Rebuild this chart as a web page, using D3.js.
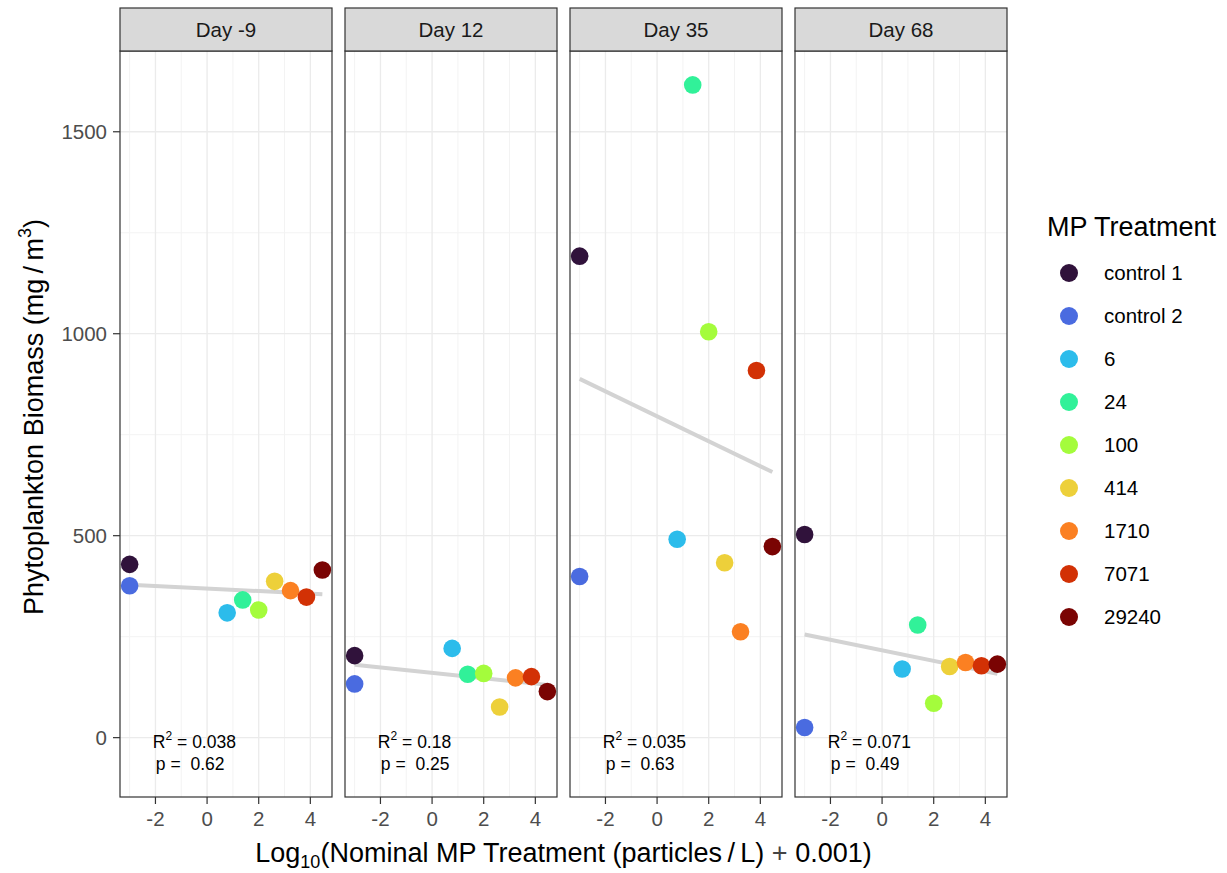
<!DOCTYPE html>
<html>
<head>
<meta charset="utf-8">
<script src="https://cdn.jsdelivr.net/npm/d3@7"></script>
<style>
  body { margin: 0; background: #fff; }
  text { font-family: "Liberation Sans", Arial, sans-serif; }
</style>
</head>
<body>
<div id="chart"></div>
<script>
var days = ["Day -9", "Day 12", "Day 35", "Day 68"];
var treatments = ["control 1", "control 2", "6", "24", "100", "414", "1710", "7071", "29240"];
var nominal = [0, 0, 6, 24, 100, 414, 1710, 7071, 29240];
var colors = ["#30123B", "#4A6BE0", "#2CBCEB", "#31F199", "#A4FC3C", "#EDD03A", "#FB8022", "#D23105", "#7A0403"];

// biomass per treatment (mg/m3), same order as treatments
var dayM9 = [429, 376, 309, 341, 316, 387, 364, 348, 415];
var day12 = [203, 133, 221, 157, 159, 76, 148, 151, 114];
var day35 = [1192, 399, 491, 1616, 1005, 433, 262, 909, 473];
var day68 = [503, 25, 170, 279, 85, 176, 186, 178, 182];
var biomass = [dayM9, day12, day35, day68];

var r2Labels = ["0.038", "0.18", "0.035", "0.071"];
var pLabels = ["0.62", "0.25", "0.63", "0.49"];
var labelX = -2.1, labelY = -63;

var xTicks = [-2, 0, 2, 4], xMinor = [-3, -1, 1, 3];
var yTicks = [0, 500, 1000, 1500], yMinor = [250, 750, 1250];

////////////////////////////////////////////////////////////
//////////////////////// Layout ////////////////////////////
////////////////////////////////////////////////////////////

var W = 1227, H = 873,
    panelTop = 51, panelBottom = 797, stripTop = 8,
    panelW = 212, panelGap = 13, firstLeft = 120;

var logX = nominal.map(function(n) { return Math.log10(n + 0.001); });

function expand(lo, hi) {
  var pad = (hi - lo) * 0.05;
  return [lo - pad, hi + pad];
}

var x = d3.scaleLinear()
  .domain(expand(d3.min(logX), d3.max(logX)))
  .range([0, panelW]);

var y = d3.scaleLinear()
  .domain(expand(labelY, d3.max(biomass, function(b) { return d3.max(b); })))
  .range([panelBottom, panelTop]);

function fit(xs, ys) {
  var mx = d3.mean(xs), my = d3.mean(ys), sxy = 0, sxx = 0;
  xs.forEach(function(v, i) { sxy += (v - mx) * (ys[i] - my); sxx += (v - mx) * (v - mx); });
  var b = sxy / sxx;
  return function(v) { return my + b * (v - mx); };
}

var svg = d3.select("#chart").append("svg")
  .attr("width", W)
  .attr("height", H);

////////////////////////////////////////////////////////////
//////////////////////// Panels ////////////////////////////
////////////////////////////////////////////////////////////

days.forEach(function(day, p) {
  var g = svg.append("g")
    .attr("transform", "translate(" + (firstLeft + p * (panelW + panelGap)) + ",0)");

  // minor grid
  g.selectAll("line.xminor").data(xMinor).enter().append("line")
    .attr("x1", x).attr("x2", x).attr("y1", panelTop).attr("y2", panelBottom)
    .attr("stroke", "#F3F3F3").attr("stroke-width", 1);
  g.selectAll("line.yminor").data(yMinor).enter().append("line")
    .attr("x1", 0).attr("x2", panelW).attr("y1", y).attr("y2", y)
    .attr("stroke", "#F3F3F3").attr("stroke-width", 1);
  // major grid
  g.selectAll("line.xmajor").data(xTicks).enter().append("line")
    .attr("x1", x).attr("x2", x).attr("y1", panelTop).attr("y2", panelBottom)
    .attr("stroke", "#EBEBEB").attr("stroke-width", 1.3);
  g.selectAll("line.ymajor").data(yTicks).enter().append("line")
    .attr("x1", 0).attr("x2", panelW).attr("y1", y).attr("y2", y)
    .attr("stroke", "#EBEBEB").attr("stroke-width", 1.3);

  // regression line
  var vals = biomass[p];
  var line = fit(logX, vals);
  var ext = d3.extent(logX);
  g.append("line")
    .attr("x1", x(ext[0])).attr("x2", x(ext[1]))
    .attr("y1", y(line(ext[0]))).attr("y2", y(line(ext[1])))
    .attr("stroke", "#D3D3D3").attr("stroke-width", 4);

  // points
  g.selectAll("circle").data(vals).enter().append("circle")
    .attr("cx", function(d, i) { return x(logX[i]); })
    .attr("cy", function(d) { return y(d); })
    .attr("r", 8.8)
    .attr("fill", function(d, i) { return colors[i]; });

  // annotation
  var t1 = g.append("text")
    .attr("x", x(labelX)).attr("y", y(labelY) - 15)
    .attr("font-size", 17.5).attr("fill", "#000");
  t1.append("tspan").text("R");
  t1.append("tspan").attr("font-size", 12).attr("dy", -8).text("2");
  t1.append("tspan").attr("dy", 8).text(" = " + r2Labels[p]);
  g.append("text")
    .attr("x", x(labelX) + 3).attr("y", y(labelY) + 7)
    .attr("font-size", 17.5).attr("fill", "#000")
    .attr("xml:space", "preserve")
    .text("p =  " + pLabels[p]);

  // border
  g.append("rect")
    .attr("x", 0).attr("y", panelTop).attr("width", panelW).attr("height", panelBottom - panelTop)
    .attr("fill", "none").attr("stroke", "#333333").attr("stroke-width", 1.2);

  // strip
  g.append("rect")
    .attr("x", 0).attr("y", stripTop).attr("width", panelW).attr("height", panelTop - stripTop)
    .attr("fill", "#D9D9D9").attr("stroke", "#333333").attr("stroke-width", 1.2);
  g.append("text")
    .attr("x", panelW / 2).attr("y", (stripTop + panelTop) / 2)
    .attr("dy", "0.36em").attr("text-anchor", "middle")
    .attr("font-size", 20.5).attr("fill", "#1A1A1A")
    .text(day);

  // x axis
  var xa = g.selectAll("g.xt").data(xTicks).enter().append("g")
    .attr("transform", function(d) { return "translate(" + x(d) + "," + panelBottom + ")"; });
  xa.append("line").attr("y2", 7).attr("stroke", "#333333").attr("stroke-width", 1.2);
  xa.append("text").attr("y", 29).attr("text-anchor", "middle")
    .attr("font-size", 20.5).attr("fill", "#4D4D4D")
    .text(function(d) { return d; });
});

////////////////////////////////////////////////////////////
//////////////////////// Y axis ////////////////////////////
////////////////////////////////////////////////////////////

var ya = svg.selectAll("g.yt").data(yTicks).enter().append("g")
  .attr("transform", function(d) { return "translate(" + firstLeft + "," + y(d) + ")"; });
ya.append("line").attr("x2", -7).attr("stroke", "#333333").attr("stroke-width", 1.2);
ya.append("text").attr("x", -13).attr("dy", "0.36em").attr("text-anchor", "end")
  .attr("font-size", 20.5).attr("fill", "#4D4D4D")
  .text(function(d) { return d; });

var yTitle = svg.append("text")
  .attr("transform", "translate(43," + ((panelTop + panelBottom) / 2 - 7) + ") rotate(-90)")
  .attr("text-anchor", "middle").attr("font-size", 27).attr("fill", "#000");
yTitle.append("tspan").text("Phytoplankton Biomass (mg\u2009/\u2009m");
yTitle.append("tspan").attr("font-size", 18).attr("dy", -12).text("3");
yTitle.append("tspan").attr("dy", 12).text(")");

var lastRight = firstLeft + 3 * (panelW + panelGap) + panelW;
var xTitle = svg.append("text")
  .attr("x", (firstLeft + lastRight) / 2).attr("y", 862)
  .attr("text-anchor", "middle").attr("font-size", 27).attr("fill", "#000");
xTitle.append("tspan").text("Log");
xTitle.append("tspan").attr("font-size", 18).attr("dy", 6).text("10");
xTitle.append("tspan").attr("dy", -6).text("(Nominal MP Treatment (particles\u2009/\u2009L) ");
xTitle.append("tspan").attr("fill", "#444").text("+");
xTitle.append("tspan").text(" 0.001)");

////////////////////////////////////////////////////////////
//////////////////////// Legend ////////////////////////////
////////////////////////////////////////////////////////////

var legend = svg.append("g").attr("transform", "translate(1047,0)");
legend.append("text").attr("x", 0).attr("y", 236)
  .attr("font-size", 27).attr("fill", "#000")
  .text("MP Treatment");

var items = legend.selectAll("g.item").data(treatments).enter().append("g")
  .attr("transform", function(d, i) { return "translate(0," + (273 + i * 43) + ")"; });
items.append("circle").attr("cx", 22).attr("r", 9)
  .attr("fill", function(d, i) { return colors[i]; });
items.append("text").attr("x", 57).attr("dy", "0.36em")
  .attr("font-size", 20.5).attr("fill", "#000")
  .text(function(d) { return d; });
</script>
</body>
</html>
